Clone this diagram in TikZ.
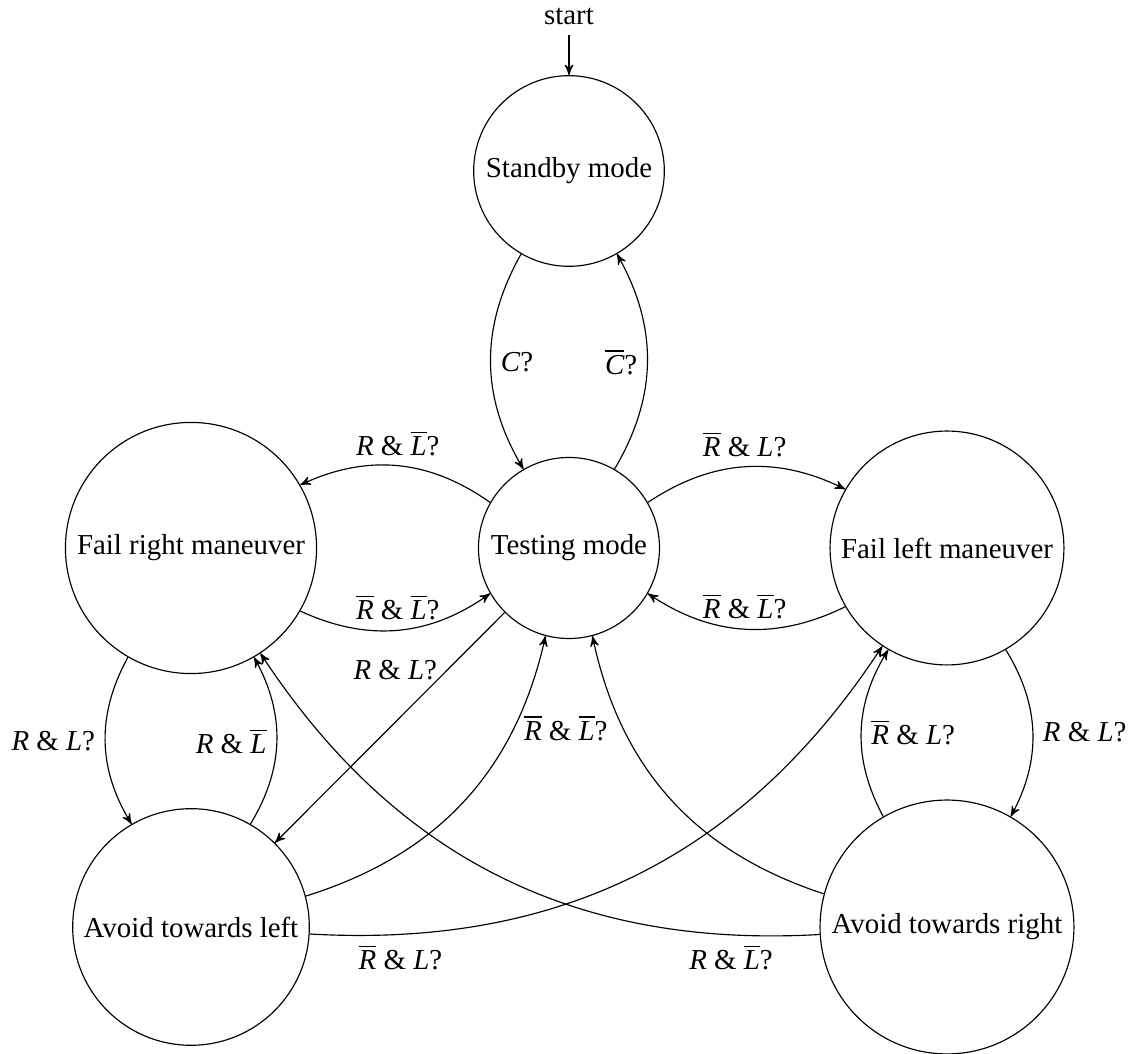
\documentclass[tikz,border=0pt]{standalone}
\usepackage{fontspec}
\setmainfont{Liberation Serif}
\usetikzlibrary{arrows}
% italic letter with a bar over it (negated condition)
\newcommand{\negv}[1]{\ensuremath{\overline{\mbox{\itshape #1}}}}
\newcommand{\posv}[1]{\textit{#1}}
\begin{document}
\begin{tikzpicture}[x=0.346pt, y=-0.346pt, >=stealth',
  state/.style={circle, draw, line width=0.4pt},
  trans/.style={->, line width=0.4pt}]
\useasboundingbox (0,0) rectangle (1133,1054);

% states
\node[state] (standby)    at (569,171) {Standby mode};
\node[state] (testing)    at (569,548) {Testing mode};
\node[state] (failright)  at (191,548) {Fail right maneuver};
\node[state] (failleft)   at (947,548) {Fail left maneuver};
\node[state] (avoidleft)  at (191,927) {Avoid towards left};
\node[state] (avoidright) at (947,927) {Avoid towards right};

% initial marker
\node (start) at (569,17) {start};
\draw[trans] (start) -- (standby);

% standby <-> testing
\draw[trans] (standby) to[bend right=30] node[right] {\posv{C}?} (testing);
\draw[trans] (testing) to[bend right=30] node[left] {\negv{C}?} (standby);

% testing <-> fail right
\draw[trans] (testing) to[bend right=30] node[above] {\posv{R} \& \negv{L}?} (failright);
\draw[trans] (failright) to[bend right=30] node[above] {\negv{R} \& \negv{L}?} (testing);

% testing <-> fail left
\draw[trans] (testing) to[bend left=30] node[above] {\negv{R} \& \posv{L}?} (failleft);
\draw[trans] (failleft) to[bend left=30] node[above] {\negv{R} \& \negv{L}?} (testing);

% fail right <-> avoid left
\draw[trans] (failright) to[bend right=30] node[left] {\posv{R} \& \posv{L}?} (avoidleft);
\draw[trans] (avoidleft) to[bend right=30] node[left] {\posv{R} \& \negv{L}} (failright);

% fail left <-> avoid right
\draw[trans] (avoidright) to[bend left=30] node[right] {\negv{R} \& \posv{L}?} (failleft);
\draw[trans] (failleft) to[bend left=30] node[right] {\posv{R} \& \posv{L}?} (avoidright);

% testing -> avoid left, avoid states -> testing
\draw[trans] (testing) -- node[pos=0.25, left] {\posv{R} \& \posv{L}?} (avoidleft);
\draw[trans] (avoidleft) to[bend right=30] node[pos=0.75, right] {\negv{R} \& \negv{L}?} (testing);
\draw[trans] (avoidright) to[bend left=30] (testing);

% long crossing transitions
\draw[trans] (avoidleft) to[bend right=30] node[pos=0.125, below] {\negv{R} \& \posv{L}?} (failleft);
\draw[trans] (avoidright) to[bend left=30] node[pos=0.125, below] {\posv{R} \& \negv{L}?} (failright);
\end{tikzpicture}
\end{document}
